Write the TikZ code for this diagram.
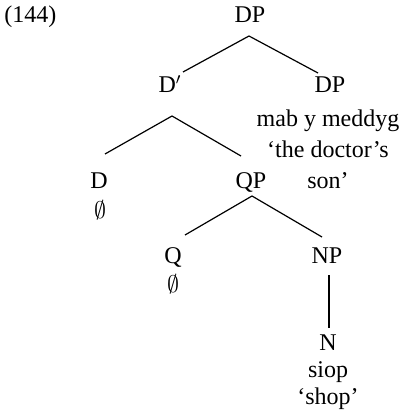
\documentclass[tikz,border=0pt]{standalone}
\usepackage{fontspec}
\setmainfont{Liberation Serif}
\usetikzlibrary{positioning}

\tikzset{
  cat/.style={anchor=base,inner sep=0pt},
  lex/.style={anchor=base,inner sep=0pt,align=center,font=\fontsize{12}{15.5}\selectfont},
  branch/.style={line width=0.6pt}
}

\begin{document}
\begin{tikzpicture}[x=0.5pt,y=-0.5pt,font=\fontsize{12}{14}\selectfont]
\useasboundingbox (0,0) rectangle (402,417);
\node[anchor=base west,inner sep=0pt] (ex) at (4,23) {(144)};
% categories
\node[cat] (dp) at (250,23) {DP};
\node[cat] (dbar) at (170,93) {D$'$};
\node[cat] (spec) at (330,93) {DP};
\node[cat] (d) at (99,188) {D};
\node[cat] (qp) at (251,188) {QP};
\node[cat] (q) at (173,263) {Q};
\node[cat] (np) at (327,263) {NP};
\node[cat] (n) at (328,350) {N};
% words under the heads (base = last line)
\node[lex] (specw) at (328,188) {mab y meddyg\\`the doctor's\\son'};
\node[lex] (dw) at (100,218) {$\emptyset$};
\node[lex] (qw) at (173,292) {$\emptyset$};
\node[lex,font=\fontsize{12}{13.5}\selectfont] (nw) at (328,404) {siop\\`shop'};
% branches
\draw[branch] ([shift={(-1,13)}]dp.base) -- ([shift={(13,-21)}]dbar.base);
\draw[branch] ([shift={(-1,13)}]dp.base) -- ([shift={(-12,-20)}]spec.base);
\draw[branch] ([shift={(2,23)}]dbar.base) -- ([shift={(6,-34)}]d.base);
\draw[branch] ([shift={(2,23)}]dbar.base) -- ([shift={(-10,-32)}]qp.base);
\draw[branch] ([shift={(1,8)}]qp.base) -- ([shift={(12,-28)}]q.base);
\draw[branch] ([shift={(1,8)}]qp.base) -- ([shift={(-5,-26)}]np.base);
\draw[branch] ([shift={(2,12)}]np.base) -- ([shift={(1,-22)}]n.base);
\end{tikzpicture}
\end{document}
